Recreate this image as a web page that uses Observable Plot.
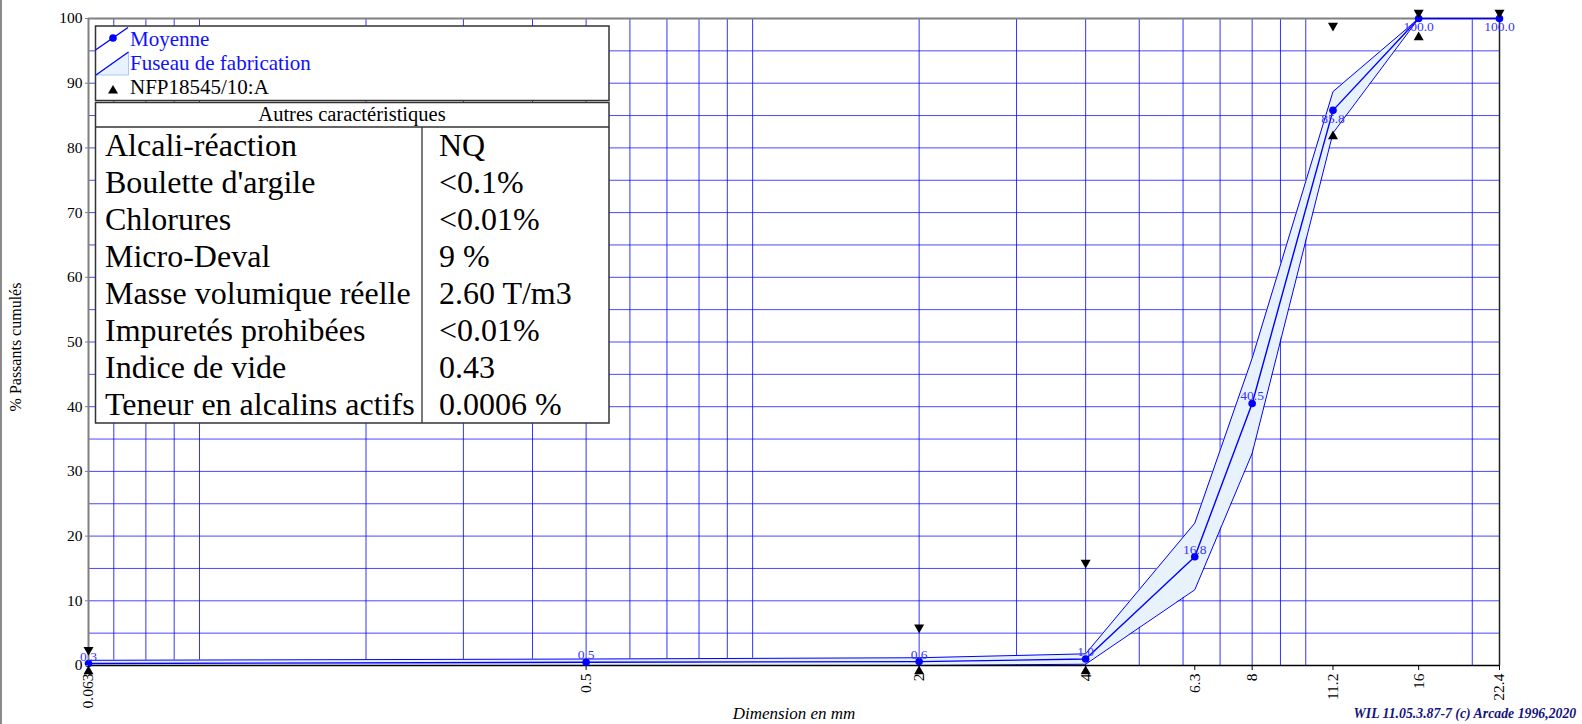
<!DOCTYPE html>
<html>
<head>
<meta charset="utf-8">
<script src="https://cdn.jsdelivr.net/npm/d3@7"></script>
<script src="https://cdn.jsdelivr.net/npm/@observablehq/plot@0.6"></script>
<style>
  html, body { margin: 0; padding: 0; background: white; }
  #wrap { position: relative; width: 1582px; height: 724px; overflow: hidden; }
  #lborder { position: absolute; left: 0; top: 0; width: 2px; height: 724px; background: #8a8a8a; }
</style>
</head>
<body>
<div id="wrap"><div id="lborder"></div></div>
<script>
// ---- data ----
const sieves     = [0.063, 0.5, 2, 4, 6.3, 8, 11.2, 16, 22.4];
const moyenne    = [0.3, 0.5, 0.6, 1.0, 16.8, 40.5, 85.8, 100.0, 100.0];
const fuseauMin  = [0, 0, 0, 0.2, 11.7, 32.8, 82.3, 100, 100];
const fuseauMax  = [0.8, 1.0, 1.2, 1.8, 22.0, 47.5, 88.7, 100, 100];
const nfpMaxSieves = [0.063, 2, 4, 11.2, 16, 22.4];
const nfpMax       = [1.5, 5, 15, 98, 100, 100];
const nfpMinSieves = [0.063, 2, 4, 11.2, 16];
const nfpMin       = [0, 0, 0, 82.7, 98];
const xTicks      = [0.063, 0.5, 2, 4, 6.3, 8, 11.2, 16, 22.4];
const xTickLabels = ["0.063", "0.5", "2", "4", "6.3", "8", "11.2", "16", "22.4"];
const xGrid = [0.07, 0.08, 0.09, 0.1, 0.2, 0.3, 0.4, 0.5, 0.6, 0.7, 0.8, 0.9, 1, 2, 3, 4, 5, 6, 7, 8, 9, 10, 20];
const yTicks = [0, 10, 20, 30, 40, 50, 60, 70, 80, 90, 100];
const yGrid  = [5, 10, 15, 20, 25, 30, 35, 40, 45, 50, 55, 60, 65, 70, 75, 80, 85, 90, 95];
const caracLabels = ["Alcali-réaction", "Boulette d'argile", "Chlorures", "Micro-Deval", "Masse volumique réelle", "Impuretés prohibées", "Indice de vide", "Teneur en alcalins actifs"];
const caracValues = ["NQ", "<0.1%", "<0.01%", "9 %", "2.60 T/m3", "<0.01%", "0.43", "0.0006 %"];
const legendLabels = ["Moyenne", "Fuseau de fabrication", "NFP18545/10:A"];
const tableTitle = "Autres caractéristiques";
const xLabel = "Dimension en mm";
const yLabel = "% Passants cumulés";
const credit = "WIL 11.05.3.87-7 (c) Arcade 1996,2020";

// ---- tables for the library ----
const rows = sieves.map((s, i) => ({x: s, m: moyenne[i], lo: fuseauMin[i], hi: fuseauMax[i], label: moyenne[i].toFixed(1)}));
const maxRows = nfpMaxSieves.map((s, i) => ({x: s, y: nfpMax[i]}));
const minRows = nfpMinSieves.map((s, i) => ({x: s, y: nfpMin[i]}));
const tickRows = xTicks.map((t, i) => ({x: t, label: xTickLabels[i]}));

const triUp = {draw(c) { c.moveTo(0, 0); c.lineTo(5, 8.7); c.lineTo(-5, 8.7); c.closePath(); }};
const triDown = {draw(c) { c.moveTo(0, 0); c.lineTo(5, -8.7); c.lineTo(-5, -8.7); c.closePath(); }};

const BLUE = "#0000ff";
const FONT = "'Liberation Serif', 'Times New Roman', serif";

const chart = Plot.plot({
  width: 1582,
  height: 724,
  marginLeft: 88,
  marginRight: 83,
  marginTop: 18,
  marginBottom: 59,
  x: {type: "log", domain: [0.063, 22.4], nice: false, axis: null},
  y: {domain: [0, 100]},
  style: {fontFamily: FONT, fontSize: "15.5px", background: "white", color: "black", overflow: "visible"},
  marks: [
    Plot.ruleY(yGrid, {stroke: BLUE, strokeOpacity: 0.72, strokeWidth: 1}),
    Plot.ruleX(xGrid, {stroke: BLUE, strokeOpacity: 0.8, strokeWidth: 1}),
    Plot.areaY(rows, {x: "x", y1: "lo", y2: "hi", fill: "#e8f2fd", fillOpacity: 1}),
    Plot.line(rows, {x: "x", y: "hi", stroke: BLUE, strokeWidth: 1}),
    Plot.line(rows, {x: "x", y: "lo", stroke: BLUE, strokeWidth: 1}),
    Plot.ruleX([0.063], {stroke: "#808080", strokeWidth: 2}),
    Plot.ruleY([100], {stroke: "#808080", strokeWidth: 2}),
    Plot.ruleY([0], {stroke: "black", strokeWidth: 1.5}),
    Plot.ruleX([22.4], {stroke: "#222", strokeWidth: 1.5}),
    // x ticks and rotated labels
    Plot.ruleX(tickRows, {x: "x", y1: 0, y2: 0, insetBottom: -5, stroke: "black", strokeWidth: 1}),
    Plot.text(tickRows, {x: "x", y: 0, text: "label", rotate: -90, textAnchor: "end", lineAnchor: "middle", dy: 8, fontSize: 15.5, fill: "black"}),
    Plot.line(rows, {x: "x", y: "m", stroke: BLUE, strokeWidth: 1.4}),
    Plot.dot(rows, {x: "x", y: "m", r: 3.8, fill: BLUE, stroke: "none"}),
    Plot.text(rows.filter(d => d.m < 80), {x: "x", y: "m", text: "label", fill: "#3535ff", fontSize: 13.5, lineAnchor: "bottom", dy: -3}),
    Plot.text(rows.filter(d => d.m >= 80), {x: "x", y: "m", text: "label", fill: "#3535ff", fontSize: 13.5, lineAnchor: "top", dy: 3}),
    Plot.dot(maxRows, {x: "x", y: "y", symbol: triDown, fill: "black", stroke: "none"}),
    Plot.dot(minRows, {x: "x", y: "y", symbol: triUp, fill: "black", stroke: "none"}),
    Plot.axisY({ticks: yTicks, tickSize: 3, tickPadding: 3, stroke: "#808080", fill: "black", label: null, fontSize: 15.5}),
    Plot.text([xLabel], {frameAnchor: "bottom", text: d => d, dy: 48, fontSize: 17, fontStyle: "italic", fill: "black", lineAnchor: "middle"}),
    Plot.text([yLabel], {frameAnchor: "left", text: d => d, dx: -73, dy: 5, rotate: -90, textAnchor: "middle", fontSize: 16, fill: "black", lineAnchor: "middle"}),
    Plot.text([credit], {frameAnchor: "bottom-right", text: d => d, dx: -146, dy: 48, textAnchor: "start", fontSize: 13.8, fontStyle: "italic", fontWeight: "bold", fill: "#14147a", lineAnchor: "middle"})
  ]
});

document.getElementById("wrap").appendChild(chart);

// ---- legend and characteristics table ----
const svg = d3.select(chart);
const g = svg.append("g").attr("font-family", FONT).attr("text-anchor", "start");

// box 1: legend
g.append("rect").attr("x", 95.5).attr("y", 26).attr("width", 513.5).attr("height", 74.5)
  .attr("fill", "white").attr("stroke", "#333").attr("stroke-width", 1.5);
// Moyenne symbol
g.append("line").attr("x1", 95.5).attr("y1", 50).attr("x2", 128).attr("y2", 27.5).attr("stroke", BLUE).attr("stroke-width", 1.4);
g.append("circle").attr("cx", 113).attr("cy", 38).attr("r", 3.8).attr("fill", BLUE);
// Fuseau symbol
g.append("polygon").attr("points", "96,75 128.5,52 128.5,75").attr("fill", "#e8f2fd").attr("stroke", "#a8c8f5").attr("stroke-width", 1);
g.append("line").attr("x1", 96).attr("y1", 75).attr("x2", 128.5).attr("y2", 52).attr("stroke", BLUE).attr("stroke-width", 1.2);
// NFP symbol
g.append("path").attr("d", "M113,85 L118,93.5 L108,93.5 Z").attr("fill", "black");
const legendBaselines = [46, 70, 94];
const legendColors = ["#1010ff", "#1010ff", "black"];
legendLabels.forEach((t, i) => {
  g.append("text").attr("x", 130).attr("y", legendBaselines[i]).attr("font-size", 21)
    .attr("text-anchor", "start").attr("fill", legendColors[i]).text(t);
});

// box 2: characteristics table
g.append("rect").attr("x", 95.5).attr("y", 102.5).attr("width", 513.5).attr("height", 320.5)
  .attr("fill", "white").attr("stroke", "#333").attr("stroke-width", 1.5);
g.append("line").attr("x1", 95.5).attr("x2", 609).attr("y1", 127).attr("y2", 127).attr("stroke", "#333").attr("stroke-width", 1.3);
g.append("line").attr("x1", 422).attr("x2", 422).attr("y1", 127).attr("y2", 423).attr("stroke", "#333").attr("stroke-width", 1.3);
g.append("text").attr("x", 352).attr("y", 121).attr("text-anchor", "middle").attr("font-size", 20.5).attr("fill", "black").text(tableTitle);
caracLabels.forEach((t, i) => {
  const yb = 156 + 37 * i;
  g.append("text").attr("x", 105).attr("y", yb).attr("font-size", 32).attr("text-anchor", "start").attr("fill", "black").text(t);
  g.append("text").attr("x", 439).attr("y", yb).attr("font-size", 32).attr("text-anchor", "start").attr("fill", "black").text(caracValues[i]);
});
</script>
</body>
</html>
